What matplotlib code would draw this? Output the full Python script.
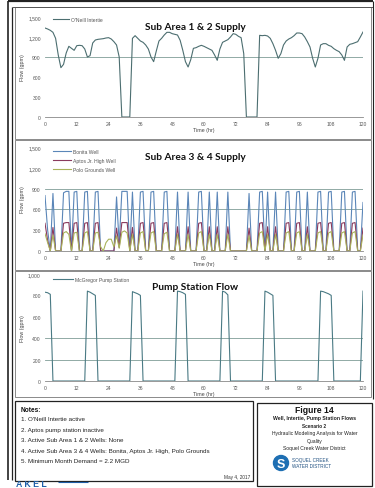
import matplotlib
matplotlib.use('Agg')
import matplotlib.pyplot as plt
from matplotlib.patches import Rectangle, Circle
from matplotlib.ticker import FuncFormatter

# ---------------- data ----------------
hours = list(range(121))

oneill = [1335, 1320, 1300, 1270, 1180, 930, 740, 790, 960, 1060,
          1030, 1000, 1070, 1075, 1070, 1020, 900, 920, 1110, 1155,
          1165, 1170, 1175, 1185, 1190, 1170, 1130, 1080, 900, 0,
          0, 0, 0, 1180, 1220, 1180, 1140, 1120, 1080, 1020,
          900, 830, 990, 1140, 1180, 1230, 1270, 1270, 1250, 1240,
          1230, 1150, 1000, 830, 750, 860, 1030, 1040, 1060, 1075,
          1060, 1040, 1020, 1000, 930, 850, 1020, 1120, 1140, 1160,
          1200, 1250, 1240, 1210, 1190, 950, 0, 0, 0, 0,
          0, 1225, 1220, 1225, 1215, 1180, 1100, 1000, 880, 950,
          1080, 1140, 1170, 1190, 1220, 1260, 1260, 1250, 1200, 1130,
          1050, 880, 750, 880, 1080, 1100, 1100, 1075, 1060, 1025,
          1000, 980, 930, 850, 1050, 1090, 1100, 1115, 1130, 1200,
          1275]

bonita = [800, 300, 0, 830, 0, 0, 0, 840, 860, 860,
          0, 850, 860, 0, 0, 850, 860, 0, 0, 850,
          860, 0, 0, 0, 0, 0, 0, 780, 100, 860,
          860, 860, 0, 850, 0, 0, 850, 860, 0, 0,
          850, 860, 0, 0, 0, 850, 860, 0, 0, 0,
          850, 0, 0, 0, 850, 0, 0, 0, 850, 860,
          0, 0, 850, 0, 0, 850, 0, 0, 0, 850,
          0, 0, 0, 0, 0, 0, 0, 830, 0, 0,
          0, 850, 860, 0, 850, 0, 0, 850, 0, 0,
          0, 850, 860, 0, 0, 850, 860, 0, 0, 850,
          0, 0, 0, 850, 860, 0, 0, 850, 860, 0,
          0, 0, 850, 860, 0, 0, 850, 860, 0, 0,
          700]

aptos = [400, 150, 0, 340, 0, 0, 0, 400, 410, 410,
         0, 400, 410, 0, 0, 400, 410, 0, 0, 400,
         410, 0, 0, 0, 0, 0, 0, 330, 50, 410,
         410, 410, 0, 340, 0, 0, 400, 410, 0, 0,
         400, 410, 0, 0, 0, 400, 410, 0, 0, 0,
         350, 0, 0, 0, 350, 0, 0, 0, 400, 410,
         0, 0, 350, 0, 0, 350, 0, 0, 0, 350,
         0, 0, 0, 0, 0, 0, 0, 330, 0, 0,
         0, 400, 410, 0, 350, 0, 0, 350, 0, 0,
         0, 400, 410, 0, 0, 400, 410, 0, 0, 350,
         0, 0, 0, 400, 410, 0, 0, 400, 410, 0,
         0, 0, 400, 410, 0, 0, 400, 410, 0, 0,
         330]

polo = [250, 120, 0, 230, 0, 0, 0, 260, 280, 240,
        0, 260, 270, 0, 0, 260, 280, 0, 0, 260,
        270, 60, 0, 120, 170, 170, 60, 220, 40, 270,
        290, 260, 0, 240, 0, 0, 260, 280, 0, 0,
        260, 280, 0, 0, 0, 250, 270, 0, 0, 0,
        240, 0, 0, 0, 240, 0, 0, 0, 260, 280,
        0, 0, 240, 0, 0, 240, 0, 0, 0, 240,
        0, 0, 0, 0, 0, 0, 0, 220, 0, 0,
        0, 260, 280, 0, 240, 0, 0, 240, 0, 0,
        0, 260, 280, 0, 0, 260, 280, 0, 0, 240,
        0, 0, 0, 260, 280, 0, 0, 260, 280, 0,
        0, 0, 260, 280, 0, 0, 260, 280, 0, 0,
        230]

mcgregor = [830, 825, 810, 0, 0, 0, 0, 0, 0, 0,
            0, 0, 0, 0, 0, 0, 840, 830, 815, 800,
            0, 0, 0, 0, 0, 0, 0, 0, 0, 0,
            0, 0, 0, 835, 825, 815, 800, 0, 0, 0,
            0, 0, 0, 0, 0, 0, 0, 0, 0, 0,
            840, 835, 825, 810, 0, 0, 0, 0, 0, 0,
            0, 0, 0, 0, 0, 0, 0, 840, 830, 805,
            0, 0, 0, 0, 0, 0, 0, 0, 0, 0,
            0, 0, 0, 840, 830, 815, 800, 0, 0, 0,
            0, 0, 0, 0, 0, 0, 0, 0, 0, 0,
            0, 0, 0, 0, 840, 835, 825, 815, 800, 0,
            0, 0, 0, 0, 0, 0, 0, 0, 0, 0,
            840]

x_ticks = list(range(0, 121, 12))
y_ticks_supply = [0, 300, 600, 900, 1200, 1500]
y_ticks_pump = [0, 200, 400, 600, 800, 1000]
ref_lines_1 = [900]
ref_lines_2 = [600, 900]
ref_lines_3 = [200, 400]

titles = ["Sub Area 1 & 2 Supply", "Sub Area 3 & 4 Supply", "Pump Station Flow"]

notes = ["1. O'Neill Intertie active",
         "2. Aptos pump station inactive",
         "3. Active Sub Area 1 & 2 Wells: None",
         "4. Active Sub Area 3 & 4 Wells: Bonita, Aptos Jr. High, Polo Grounds",
         "5. Minimum Month Demand = 2.2 MGD"]

# ---------------- figure ----------------
W, H = 375, 489
fig = plt.figure(figsize=(3.75, 4.89), dpi=100)
fig.patch.set_facecolor('white')

bg = fig.add_axes([0, 0, 1, 1])
bg.set_xlim(0, W)
bg.set_ylim(H, 0)
bg.axis('off')

SANS = ['Liberation Sans', 'DejaVu Sans']
TITLE = ['Lato', 'DejaVu Sans']

def line(x0, y0, x1, y1, lw=0.8, c='#222222'):
    bg.plot([x0, x1], [y0, y1], color=c, lw=lw, solid_capstyle='butt')

# outer frame
line(8, 2, 373, 2, lw=1.6)
line(8, 2, 8, 481, lw=1.2)
line(12, 8, 12, 481, lw=0.9)
line(12, 8, 373, 8, lw=0.7, c='#555555')
line(373, 2, 373, 400, lw=0.8)
# panel boxes
for (yt, yb) in [(8, 140), (141, 271), (272, 398)]:
    bg.add_patch(Rectangle((15, yt), 356, yb - yt, fill=False, lw=0.6, ec='#777777'))
# notes and figure boxes
bg.add_patch(Rectangle((15, 402), 238, 80, fill=False, lw=0.9, ec='#222222'))
bg.add_patch(Rectangle((257, 404), 115, 83, fill=False, lw=0.9, ec='#222222'))

def px_rect(x0, yt, x1, yb):
    return [x0 / W, 1 - yb / H, (x1 - x0) / W, (yb - yt) / H]

def style_axes(ax, yticks):
    ax.set_xlim(0, 120)
    ax.set_ylim(yticks[0], yticks[-1])
    ax.set_xticks(x_ticks)
    ax.set_yticks(yticks)
    ax.yaxis.set_major_formatter(FuncFormatter(lambda v, p: f"{int(v):,}"))
    for s in ['top', 'right', 'left']:
        ax.spines[s].set_visible(False)
    ax.spines['bottom'].set_color('#888888')
    ax.spines['bottom'].set_linewidth(0.6)
    ax.tick_params(length=0, labelsize=3.6, labelcolor='#555555', pad=3)
    for lab in ax.get_xticklabels() + ax.get_yticklabels():
        lab.set_family(SANS)
    ax.set_xlabel('Time (hr)', fontsize=3.8, color='#444444', labelpad=0.5, family=SANS)
    ax.set_ylabel('Flow (gpm)', fontsize=3.8, color='#444444', labelpad=2, family=SANS)
    ax.patch.set_alpha(0)

# panel 1
ax1 = fig.add_axes(px_rect(45, 18, 363, 118))
for r in ref_lines_1:
    ax1.axhline(r, color='#7f9c96', lw=0.6, zorder=1)
ax1.plot(hours, oneill, color='#4c6e70', lw=0.8, label="O'Neill Intertie", zorder=3)
style_axes(ax1, y_ticks_supply)
ax1.legend(loc='upper left', bbox_to_anchor=(0.02, 1.02), frameon=False,
           prop={'family': SANS, 'size': 3.6}, handlelength=3.2, handletextpad=0.4,
           borderaxespad=0, labelcolor='#555555')

# panel 2
ax2 = fig.add_axes(px_rect(45, 148, 363, 252))
for r in ref_lines_2:
    ax2.axhline(r, color='#7f9c96', lw=0.6, zorder=1)
ax2.plot(hours, bonita, color='#5b86b8', lw=0.8, label='Bonita Well', zorder=3)
ax2.plot(hours, aptos, color='#8a3b5e', lw=0.8, label='Aptos Jr. High Well', zorder=4)
ax2.plot(hours, polo, color='#a9b35a', lw=0.8, label='Polo Grounds Well', zorder=5)
style_axes(ax2, y_ticks_supply)
ax2.legend(loc='upper left', bbox_to_anchor=(0.02, 1.0), frameon=False,
           prop={'family': SANS, 'size': 3.6}, handlelength=3.5, handletextpad=0.4,
           labelspacing=0.75, borderaxespad=0, labelcolor='#555555')

# panel 3
ax3 = fig.add_axes(px_rect(45, 275, 363, 382))
for r in ref_lines_3:
    ax3.axhline(r, color='#7f9c96', lw=0.6, zorder=1)
ax3.plot(hours, mcgregor, color='#4a7a84', lw=0.8, label='McGregor Pump Station', zorder=3)
style_axes(ax3, y_ticks_pump)
ax3.legend(loc='upper left', bbox_to_anchor=(0.02, 0.99), frameon=False,
           prop={'family': SANS, 'size': 3.6}, handlelength=4.0, handletextpad=0.4,
           borderaxespad=0, labelcolor='#555555')

# titles
for (ty, t) in zip([27, 157, 287], titles):
    bg.text(195, ty, t, ha='center', va='center', fontsize=7.3, fontweight='bold',
            family=TITLE, color='#111111')

# notes
bg.text(21, 410, 'Notes:', ha='left', va='center', fontsize=4.7, fontweight='bold',
        family=SANS, color='#111111')
for i, n in enumerate(notes):
    bg.text(21, 419.5 + i * 10.6, n, ha='left', va='center', fontsize=4.5,
            family=SANS, color='#222222')
bg.text(250, 478, 'May 4, 2017', ha='right', va='center', fontsize=3.4,
        family=SANS, color='#333333')

# figure box
cx = 314.5
bg.text(cx, 410.5, 'Figure 14', ha='center', va='center', fontsize=6.2, fontweight='bold',
        family=SANS, color='#111111')
bg.text(cx, 418.5, 'Well, Intertie, Pump Station Flows', ha='center', va='center',
        fontsize=3.7, fontweight='bold', family=SANS, color='#222222')
bg.text(cx, 426, 'Scenario 2', ha='center', va='center', fontsize=3.4,
        fontweight='bold', family=SANS, color='#222222')
bg.text(cx, 433.5, 'Hydraulic Modeling Analysis for Water', ha='center', va='center',
        fontsize=3.6, family=SANS, color='#222222')
bg.text(cx, 441, 'Quality', ha='center', va='center', fontsize=3.6, family=SANS, color='#222222')
bg.text(cx, 448.5, 'Soquel Creek Water District', ha='center', va='center',
        fontsize=3.6, family=SANS, color='#222222')
# logo
bg.add_patch(Circle((281, 464), 7.5, color='#1e6fb3'))
bg.text(281, 464.5, 'S', ha='center', va='center', fontsize=9, fontweight='bold',
        color='white', family=SANS)
bg.text(292, 460.5, 'SOQUEL CREEK', ha='left', va='center', fontsize=3.3,
        color='#1e4f80', family=SANS)
bg.text(292, 467, 'WATER DISTRICT', ha='left', va='center', fontsize=3.3,
        color='#1e4f80', family=SANS)

# AKEL logo at bottom
bg.text(16, 484.5, 'A K E L', ha='left', va='center', fontsize=6.3, fontweight='bold',
        color='#1f5fa8', family=SANS)
line(58, 483, 88, 483, lw=0.8, c='#1f5fa8')

fig.savefig('out.png', dpi=100, facecolor='white')
